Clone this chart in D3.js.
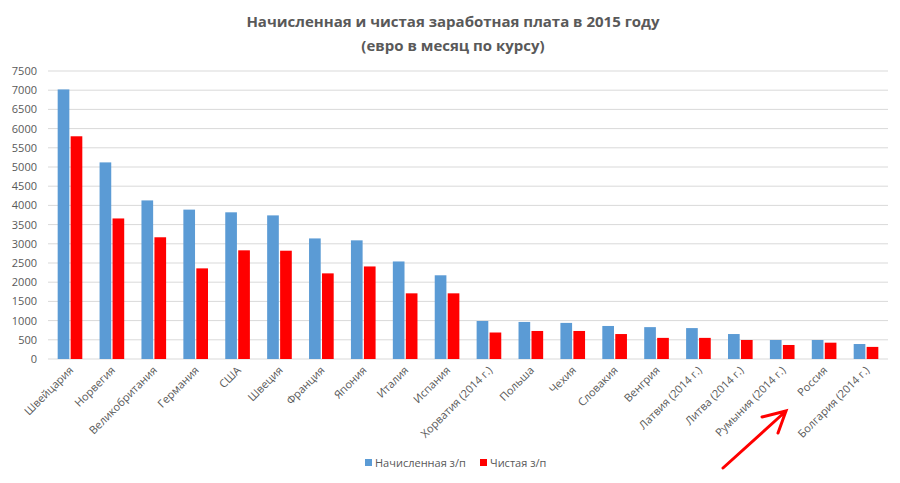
<!DOCTYPE html>
<html><head><meta charset="utf-8">
<script src="https://cdn.jsdelivr.net/npm/d3@7"></script>
<style>body{margin:0;background:#fff}text{font-family:"Open Sans","Liberation Sans",sans-serif;fill:#595959}</style>
</head><body><svg id="c" width="900" height="483"></svg>
<script>
// data
var countries = ["Швейцария","Норвегия","Великобритания","Германия","США","Швеция","Франция","Япония","Италия","Испания","Хорватия (2014 г.)","Польша","Чехия","Словакия","Венгрия","Латвия (2014 г.)","Литва (2014 г.)","Румыния (2014 г.)","Россия","Болгария (2014 г.)"];
var gross = [7020,5120,4130,3890,3820,3740,3140,3090,2540,2180,990,965,940,860,830,805,650,495,495,390];
var net = [5800,3660,3170,2360,2830,2820,2230,2410,1710,1710,690,730,730,650,550,550,495,365,425,315];
var ticks = d3.range(0, 7501, 500);

var svg = d3.select("#c");
var m = {l:48, r:12, t:71, b:124};
var w = 900 - m.l - m.r, h = 483 - m.t - m.b;

var x = d3.scaleBand().domain(countries).range([m.l, m.l + w]).paddingInner(0.35).paddingOuter(0.2);
var x1 = d3.scaleBand().domain(["g","n"]).range([0, x.bandwidth()]).padding(0.1);
var y = d3.scaleLinear().domain([0, 7500]).range([m.t + h, m.t]);

//gridlines
svg.append("g").selectAll("line").data(ticks).join("line")
    .attr("x1", m.l).attr("x2", m.l + w)
    .attr("y1", d => y(d)).attr("y2", d => y(d))
    .attr("stroke", "#d9d9d9");

svg.append("g").selectAll("text").data(ticks).join("text")
    .attr("x", 37).attr("y", d => y(d) + 4).attr("text-anchor", "end")
    .attr("font-size", 11).text(d => d);

var g = svg.append("g");
g.selectAll(".g").data(gross).join("rect")
    .attr("x", (d, i) => x(countries[i]) + x1("g")).attr("width", x1.bandwidth())
    .attr("y", d => y(d)).attr("height", d => y(0) - y(d)).attr("fill", "#5b9bd5");
g.selectAll(".n").data(net).join("rect")
    .attr("x", (d, i) => x(countries[i]) + x1("n")).attr("width", x1.bandwidth())
    .attr("y", d => y(d)).attr("height", d => y(0) - y(d)).attr("fill", "#ff0000");

//category labels
svg.append("g").selectAll("text").data(countries).join("text")
    .attr("transform", d => "translate(" + (x(d) + x.bandwidth() / 2 + 4) + "," + (y(0) + 12) + ") rotate(-45)")
    .attr("text-anchor", "end").attr("font-size", 11).text(d => d);

svg.append("text").attr("x", 453).attr("y", 27).attr("text-anchor", "middle")
    .attr("font-size", 15).attr("font-weight", "bold").text("Начисленная и чистая заработная плата в 2015 году");
svg.append("text").attr("x", 453).attr("y", 51).attr("text-anchor", "middle")
    .attr("font-size", 15).attr("font-weight", "bold").text("(евро в месяц по курсу)");

//legend
var lg = [["Начисленная з/п","#5b9bd5",365],["Чистая з/п","#ff0000",480]];
lg.forEach(function(l){
    svg.append("rect").attr("x", l[2]).attr("y", 459).attr("width", 7).attr("height", 7).attr("fill", l[1]);
    svg.append("text").attr("x", l[2] + 10).attr("y", 467).attr("font-size", 11).text(l[0]);
});

//hand-drawn arrow
svg.append("path").attr("d", "M723,468 L786,411 M762,417 L786,411 L778,433")
    .attr("fill", "none").attr("stroke", "#ff0000").attr("stroke-width", 3).attr("stroke-linecap", "round");
</script></body></html>
